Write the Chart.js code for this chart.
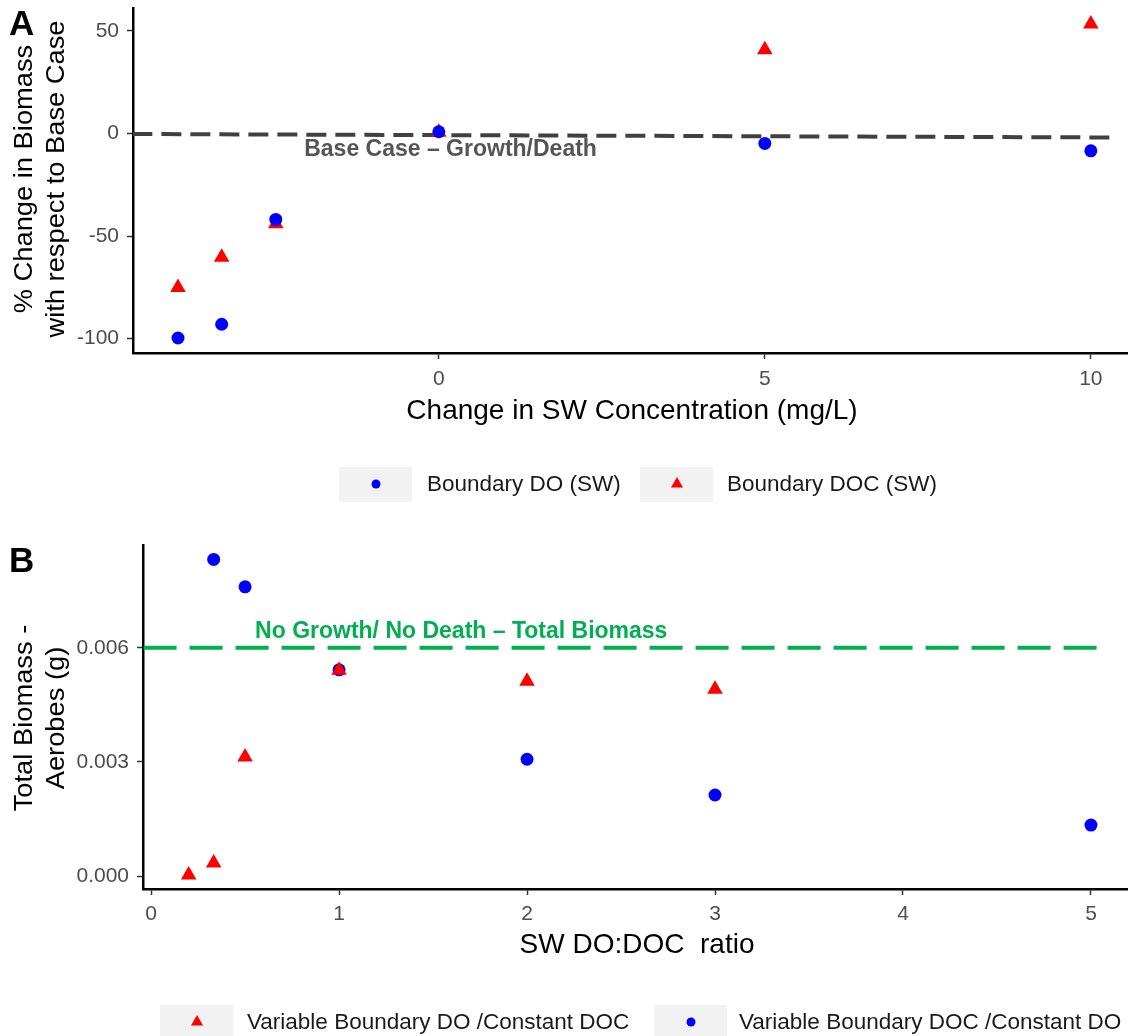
<!DOCTYPE html>
<html>
<head>
<meta charset="utf-8">
<script src="https://cdn.jsdelivr.net/npm/chart.js@4/dist/chart.umd.min.js"></script>
<style>
html, body { margin: 0; background: #fff; overflow: hidden; }
.panel { width: 1128px; position: relative; }
</style>
</head>
<body>
<div class="panel" style="height:520px"><canvas id="panelA"></canvas></div>
<div class="panel" style="height:516px"><canvas id="panelB"></canvas></div>
<script>
// PANEL A data
const concChange = [-4, -3.33, -2.5, 0, 5, 10];
const boundaryDO = [-99.7, -93, -41.9, 0.8, -4.9, -8.5];
const boundaryDOC = [-75.1, -60.3, -44, 0.6, 40.7, 53.3];
const baseCaseX = [-4.7, 10.4];
const baseCaseY = [-0.3, -2];
const ticksAX = [0, 5, 10];
const ticksAY = [-100, -50, 0, 50];

// PANEL B data
const ratioDO = [0.2, 0.333, 0.5, 1, 2, 3];
const varDO = [0.00003, 0.00034, 0.00313, 0.00541, 0.00512, 0.00491];
const ratioDOC = [0.333, 0.5, 1, 2, 3, 5];
const varDOC = [0.00832, 0.0076, 0.00542, 0.00307, 0.00213, 0.00134];
const noGrowthX = [-0.04, 5.03];
const noGrowthY = [0.006, 0.006];
const ticksBX = [0, 1, 2, 3, 4, 5];
const ticksBY = [0, 0.003, 0.006];

const FONT = "'Liberation Sans', Arial, sans-serif";
const pts = (xs, ys) => xs.map((x, i) => ({ x: x, y: ys[i] }));

function marker(ctx, style, color, x, y, r) {
	ctx.fillStyle = color;
	ctx.beginPath();
	if (style === 'triangle') {
		ctx.moveTo(x, y - r);
		ctx.lineTo(x + r * 0.866, y + r * 0.5);
		ctx.lineTo(x - r * 0.866, y + r * 0.5);
		ctx.closePath();
	} else {
		ctx.arc(x, y, r, 0, Math.PI * 2);
	}
	ctx.fill();
}

// titles, panel letter, reference line label and legend
const deco = {
	id: 'deco',
	afterDraw(chart, args, o) {
		const ctx = chart.ctx;
		ctx.save();
		ctx.textBaseline = 'middle';

		ctx.fillStyle = '#000';
		ctx.textAlign = 'left';
		ctx.font = 'bold 35px ' + FONT;
		ctx.fillText(o.letter, 9, o.letterY);

		ctx.font = '28px ' + FONT;
		ctx.textAlign = 'center';
		ctx.fillText(o.xTitle, o.xTitleX, o.xTitleY);

		ctx.save();
		ctx.font = '26.5px ' + FONT;
		ctx.translate(0, o.yTitleY);
		ctx.rotate(-Math.PI / 2);
		ctx.scale(1.03, 1);
		o.yTitle.forEach((t, i) => ctx.fillText(t, 0, 25 + i * 31.5));
		ctx.restore();

		const sx = chart.scales.x, sy = chart.scales.y;
		ctx.font = 'bold 23px ' + FONT;
		ctx.fillStyle = o.note.color;
		ctx.fillText(o.note.text, sx.getPixelForValue(o.note.x), sy.getPixelForValue(o.note.y));

		ctx.font = '22.5px ' + FONT;
		ctx.textAlign = 'left';
		o.legend.forEach(item => {
			ctx.fillStyle = '#f2f2f2';
			ctx.fillRect(item.boxX, o.legendY - 17, 73, 35);
			marker(ctx, item.style, item.color, item.boxX + 37, o.legendY, item.r);
			ctx.fillStyle = '#1a1a1a';
			ctx.fillText(item.label, item.textX, o.legendY + 1);
		});
		ctx.restore();
	}
};

// fixed axis size, no automatic edge padding from the tick labels
function fitX(h) {
	return s => { s.height = h; s.paddingLeft = 0; s.paddingRight = 0; };
}
function fitY(w) {
	return s => { s.width = w; s.paddingTop = 0; s.paddingBottom = 0; };
}

function axis(min, max, tickVals, fit, fmt, pad) {
	return {
		type: 'linear',
		min: min,
		max: max,
		afterBuildTicks: s => { s.ticks = tickVals.map(v => ({ value: v })); },
		afterFit: fit,
		ticks: { autoSkip: false, color: '#4d4d4d', font: { family: FONT, size: 21 }, padding: pad, callback: fmt },
		grid: { drawOnChartArea: false, drawTicks: true, tickLength: 6, tickWidth: 1.5, color: '#333' },
		border: { display: true, color: '#000', width: 2.5 }
	};
}

const ctxA = document.querySelector('#panelA').getContext('2d');

const chartA = new Chart(ctxA, {
	type: 'scatter',
	data: {
		datasets: [{
			label: 'Boundary DO (SW)',
			data: pts(concChange, boundaryDO),
			pointStyle: 'circle',
			pointRadius: 6.5,
			backgroundColor: '#0000ff',
			borderWidth: 0,
			order: 1
		}, {
			label: 'Boundary DOC (SW)',
			data: pts(concChange, boundaryDOC),
			pointStyle: 'triangle',
			pointRadius: 9,
			backgroundColor: '#ff0000',
			borderWidth: 0,
			order: 2
		}, {
			label: 'Base Case',
			type: 'line',
			data: pts(baseCaseX, baseCaseY),
			borderColor: '#404040',
			borderWidth: 4,
			borderDash: [20, 9],
			pointRadius: 0,
			order: 3
		}]
	},
	options: {
		responsive: true,
		maintainAspectRatio: false,
		animation: false,
		events: [],
		layout: { autoPadding: false, padding: { top: 8, left: 0, right: 0, bottom: 0 } },
		scales: {
			x: axis(-4.69, 10.57, ticksAX, fitX(167), v => String(v), 8),
			y: axis(-107, 61.1, ticksAY, fitY(133), v => String(v), 8)
		},
		plugins: {
			legend: { display: false },
			tooltip: { enabled: false },
			deco: {
				letter: 'A',
				letterY: 25,
				xTitle: 'Change in SW Concentration (mg/L)',
				xTitleX: 632,
				xTitleY: 411,
				yTitle: ['% Change in Biomass', 'with respect to Base Case'],
				yTitleY: 179,
				note: { text: 'Base Case \u2013 Growth/Death', x: 0.18, y: -8, color: '#555555' },
				legendY: 484,
				legend: [
					{ label: 'Boundary DO (SW)', style: 'circle', color: '#0000ff', r: 4.5, boxX: 339, textX: 427 },
					{ label: 'Boundary DOC (SW)', style: 'triangle', color: '#ff0000', r: 7, boxX: 640, textX: 727 }
				]
			}
		}
	},
	plugins: [deco]
})

const ctxB = document.querySelector('#panelB').getContext('2d');

const chartB = new Chart(ctxB, {
	type: 'scatter',
	data: {
		datasets: [{
			label: 'Variable Boundary DO /Constant DOC',
			data: pts(ratioDO, varDO),
			pointStyle: 'triangle',
			pointRadius: 9,
			backgroundColor: '#ff0000',
			borderWidth: 0,
			order: 1
		}, {
			label: 'Variable Boundary DOC /Constant DO',
			data: pts(ratioDOC, varDOC),
			pointStyle: 'circle',
			pointRadius: 6.5,
			backgroundColor: '#0000ff',
			borderWidth: 0,
			order: 2
		}, {
			label: 'No Growth/ No Death',
			type: 'line',
			data: pts(noGrowthX, noGrowthY),
			borderColor: '#00b050',
			borderWidth: 4,
			borderDash: [33, 13],
			pointRadius: 0,
			order: 3
		}]
	},
	options: {
		responsive: true,
		maintainAspectRatio: false,
		animation: false,
		events: [],
		layout: { autoPadding: false, padding: { top: 25, left: 0, right: 0, bottom: 0 } },
		scales: {
			x: axis(-0.043, 5.197, ticksBX, fitX(147), v => String(v), 7),
			y: axis(-0.00034, 0.0087, ticksBY, fitY(143), v => v.toFixed(3), 8)
		},
		plugins: {
			legend: { display: false },
			tooltip: { enabled: false },
			deco: {
				letter: 'B',
				letterY: 42,
				xTitle: 'SW DO:DOC  ratio',
				xTitleX: 637,
				xTitleY: 425,
				yTitle: ['Total Biomass -', 'Aerobes (g)'],
				yTitleY: 198,
				note: { text: 'No Growth/ No Death \u2013 Total Biomass', x: 1.65, y: 0.00641, color: '#00b050' },
				legendY: 502,
				legend: [
					{ label: 'Variable Boundary DO /Constant DOC', style: 'triangle', color: '#ff0000', r: 7, boxX: 160, textX: 247 },
					{ label: 'Variable Boundary DOC /Constant DO', style: 'circle', color: '#0000ff', r: 4.5, boxX: 654, textX: 739 }
				]
			}
		}
	},
	plugins: [deco]
})
</script>
</body>
</html>
